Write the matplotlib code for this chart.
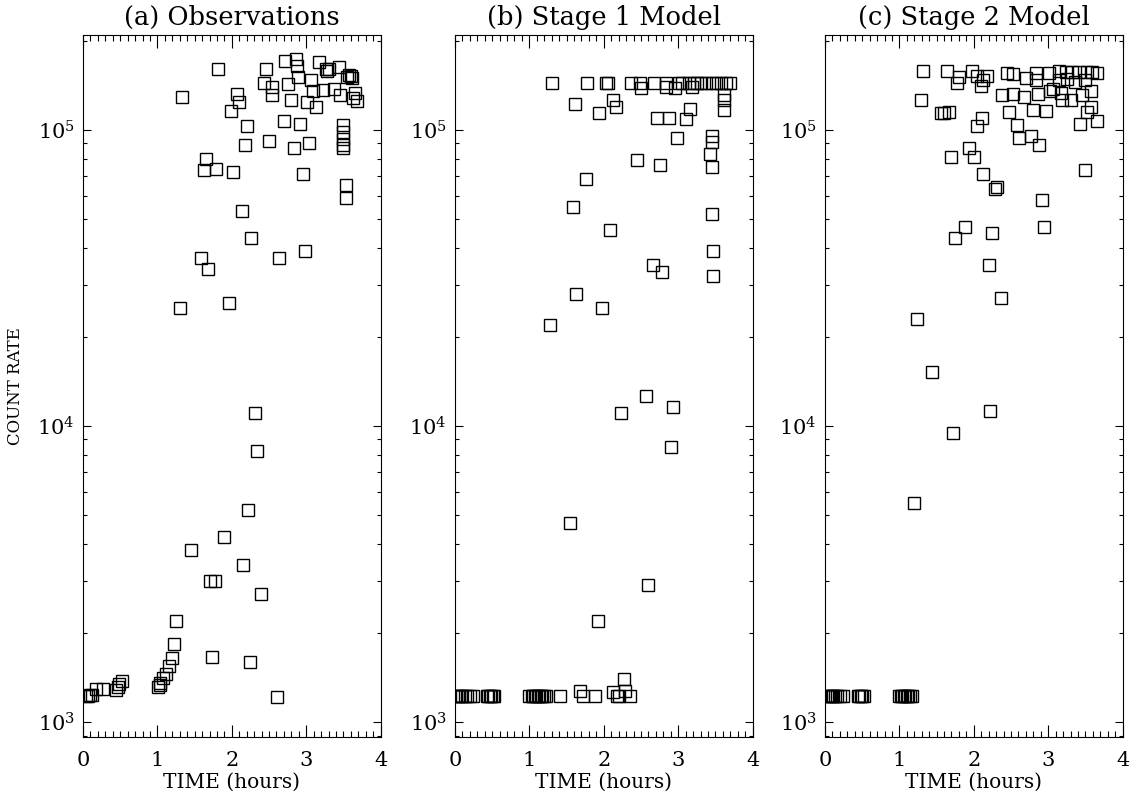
import numpy as np
import matplotlib
matplotlib.use('Agg')
import matplotlib.pyplot as plt
from matplotlib.ticker import MultipleLocator, LogLocator, NullFormatter

plt.rcParams['font.family'] = ['DejaVu Serif']
plt.rcParams['mathtext.fontset'] = 'dejavuserif'

# (a) observations: time (hours), count rate
obs_t = [0.04, 0.07, 0.09, 0.12, 0.18, 0.27, 0.45, 0.47, 0.49, 0.53,
         1.01, 1.03, 1.04, 1.08, 1.12, 1.15, 1.19, 1.22, 1.25, 1.45,
         1.71, 1.77, 1.74, 1.90, 2.15, 2.22, 2.24, 2.31, 2.34, 2.39, 2.61,
         1.82, 1.33, 2.71, 2.86, 2.87, 2.46, 3.17, 3.26, 3.28, 3.30, 3.44,
         3.58, 3.60, 3.62, 3.55, 2.89, 3.06, 2.43, 2.54, 2.76, 2.54, 2.07,
         2.10, 1.99, 2.80, 3.01, 3.13, 3.09, 3.22, 3.37, 3.46, 3.66, 3.68,
         3.63, 2.20, 2.70, 2.92, 3.50, 3.50, 3.50, 3.50, 3.50, 2.50, 2.18,
         2.83, 3.04, 1.65, 1.63, 1.79, 2.02, 2.95, 3.53, 3.53, 2.14, 2.26,
         1.58, 1.68, 2.64, 2.98, 1.31, 1.96]
obs_c = [1.22e3, 1.22e3, 1.23e3, 1.23e3, 1.29e3, 1.29e3, 1.28e3, 1.31e3, 1.34e3, 1.38e3,
         1.31e3, 1.33e3, 1.35e3, 1.41e3, 1.45e3, 1.54e3, 1.64e3, 1.84e3, 2.2e3, 3.8e3,
         3.0e3, 3.0e3, 1.66e3, 4.2e3, 3.4e3, 5.2e3, 1.60e3, 1.11e4, 8.2e3, 2.7e3, 1.21e3,
         1.61e5, 1.29e5, 1.71e5, 1.73e5, 1.64e5, 1.60e5, 1.69e5, 1.60e5, 1.58e5, 1.61e5, 1.63e5,
         1.53e5, 1.52e5, 1.50e5, 1.51e5, 1.51e5, 1.47e5, 1.44e5, 1.40e5, 1.43e5, 1.31e5, 1.32e5,
         1.24e5, 1.16e5, 1.26e5, 1.24e5, 1.19e5, 1.35e5, 1.36e5, 1.37e5, 1.31e5, 1.33e5, 1.25e5,
         1.28e5, 1.03e5, 1.07e5, 1.05e5, 1.04e5, 9.8e4, 9.3e4, 8.9e4, 8.7e4, 9.2e4, 8.9e4,
         8.7e4, 9.0e4, 8.0e4, 7.3e4, 7.4e4, 7.2e4, 7.1e4, 6.5e4, 5.9e4, 5.3e4, 4.3e4,
         3.7e4, 3.4e4, 3.7e4, 3.9e4, 2.5e4, 2.6e4]

# (b) stage 1 model
st1_t = [1.30, 1.78, 2.03, 2.06, 2.37, 2.49, 2.67, 2.83, 3.01, 3.05,
         3.14, 3.21, 3.25, 3.31, 3.38, 3.45, 3.51, 3.58, 3.64, 3.69,
         2.50, 2.83, 2.96, 3.18,
         1.61, 2.13, 2.16, 1.94, 3.16, 2.71, 2.87, 3.10, 3.62, 3.62, 3.62,
         2.99, 3.45, 3.45, 3.43, 3.45, 2.45, 2.75, 1.76, 1.59, 3.45, 2.09,
         3.47, 2.66, 2.78, 3.47, 1.63, 1.98, 1.28,
         2.57, 2.93, 2.23, 2.90, 1.55, 2.60, 1.92, 2.27,
         0.02, 0.04, 0.06, 0.08, 0.10, 0.13, 0.16, 0.20, 0.24,
         0.43, 0.45, 0.47, 0.49, 0.51, 0.53,
         1.00, 1.03, 1.05, 1.07, 1.09, 1.11, 1.13, 1.15, 1.17, 1.19, 1.22,
         1.41, 1.68, 1.72, 1.88, 2.12, 2.18, 2.21, 2.29, 2.35]
st1_c = [1.44e5] * 20 + [1.38e5, 1.40e5, 1.38e5, 1.40e5,
         1.22e5, 1.26e5, 1.19e5, 1.14e5, 1.18e5, 1.10e5, 1.10e5, 1.09e5, 1.31e5, 1.26e5, 1.17e5,
         9.4e4, 9.5e4, 9.1e4, 8.3e4, 7.5e4, 7.9e4, 7.6e4, 6.8e4, 5.5e4, 5.2e4, 4.6e4,
         3.9e4, 3.5e4, 3.3e4, 3.2e4, 2.8e4, 2.5e4, 2.2e4,
         1.26e4, 1.16e4, 1.11e4, 8.5e3, 4.7e3, 2.9e3, 2.2e3, 1.4e3] + \
        [1.22e3] * 26 + [1.22e3, 1.27e3, 1.22e3, 1.22e3, 1.26e3, 1.22e3, 1.22e3, 1.27e3, 1.22e3]

# (c) stage 2 model
st2_t = [1.32, 1.64, 1.80, 1.78, 1.97, 2.04, 2.18, 2.09, 2.13, 2.44, 2.52, 2.70, 2.83,
         2.84, 3.01, 3.15, 3.24, 3.32, 3.41, 3.52, 3.59, 3.66, 3.15, 3.25, 3.36, 3.49,
         2.38, 2.52, 2.67, 2.86, 3.03, 3.06, 3.17, 3.19, 3.30, 3.46, 3.57,
         1.29, 1.56, 1.60, 1.66, 2.47, 2.80, 2.97, 3.52, 3.58,
         2.11, 2.04, 3.43, 3.66, 2.58, 2.61, 2.77, 2.88, 1.94, 1.69, 2.00, 2.13, 3.49,
         2.29, 2.31, 2.92, 1.88, 1.75, 2.24, 2.94, 2.20, 2.37, 1.23,
         1.44, 2.22, 1.72, 1.20,
         0.03, 0.05, 0.07, 0.09, 0.11, 0.13, 0.16, 0.20, 0.24,
         0.44, 0.46, 0.48, 0.50, 0.52,
         1.00, 1.02, 1.04, 1.06, 1.08, 1.10, 1.12, 1.14, 1.17]
st2_c = [1.58e5, 1.58e5, 1.51e5, 1.44e5, 1.58e5, 1.52e5, 1.52e5, 1.41e5, 1.47e5, 1.56e5, 1.55e5, 1.50e5, 1.56e5,
         1.47e5, 1.56e5, 1.58e5, 1.57e5, 1.57e5, 1.57e5, 1.57e5, 1.57e5, 1.56e5, 1.47e5, 1.49e5, 1.45e5, 1.47e5,
         1.31e5, 1.32e5, 1.29e5, 1.32e5, 1.35e5, 1.37e5, 1.33e5, 1.26e5, 1.26e5, 1.31e5, 1.35e5,
         1.26e5, 1.14e5, 1.14e5, 1.15e5, 1.15e5, 1.17e5, 1.16e5, 1.15e5, 1.19e5,
         1.10e5, 1.03e5, 1.05e5, 1.07e5, 1.04e5, 9.4e4, 9.5e4, 8.9e4, 8.7e4, 8.1e4, 8.1e4, 7.1e4, 7.3e4,
         6.3e4, 6.4e4, 5.8e4, 4.7e4, 4.3e4, 4.5e4, 4.7e4, 3.5e4, 2.7e4, 2.3e4,
         1.52e4, 1.12e4, 9.5e3, 5.5e3] + [1.22e3] * 23

titles = ['(a) Observations', '(b) Stage 1 Model', '(c) Stage 2 Model']
panels = [(obs_t, obs_c), (st1_t, st1_c), (st2_t, st2_c)]
lefts = [0.0732, 0.4012, 0.7275]

fig = plt.figure(figsize=(11.34, 7.97), dpi=100)

for i in range(3):
    ax = fig.add_axes([lefts[i], 0.0753, 0.2625, 0.8807])
    t, c = panels[i]
    ax.plot(t, c, 's', mfc='none', mec='black', ms=9, mew=1.0)
    ax.set_yscale('log')
    ax.set_xlim(0, 4)
    ax.set_ylim(890, 2.09e5)
    ax.xaxis.set_major_locator(MultipleLocator(1))
    ax.xaxis.set_minor_locator(MultipleLocator(0.1))
    ax.yaxis.set_major_locator(LogLocator(base=10))
    ax.yaxis.set_minor_locator(LogLocator(base=10, subs=np.arange(2, 10)))
    ax.yaxis.set_minor_formatter(NullFormatter())
    ax.tick_params(which='both', direction='in', top=True, right=True, labelsize=15, width=0.8)
    ax.tick_params(axis='x', which='major', length=9, pad=10)
    ax.tick_params(axis='x', which='minor', length=4)
    ax.tick_params(axis='y', which='major', length=6, pad=6)
    ax.tick_params(axis='y', which='minor', length=3)
    for s in ax.spines.values():
        s.set_linewidth(0.8)
    ax.set_title(titles[i], fontsize=18.5, pad=7)
    ax.set_xlabel('TIME (hours)', fontsize=14.5, labelpad=2)
    if i == 0:
        ax.set_ylabel('COUNT RATE', fontsize=12, labelpad=10)

fig.savefig('out.png', dpi=100)
